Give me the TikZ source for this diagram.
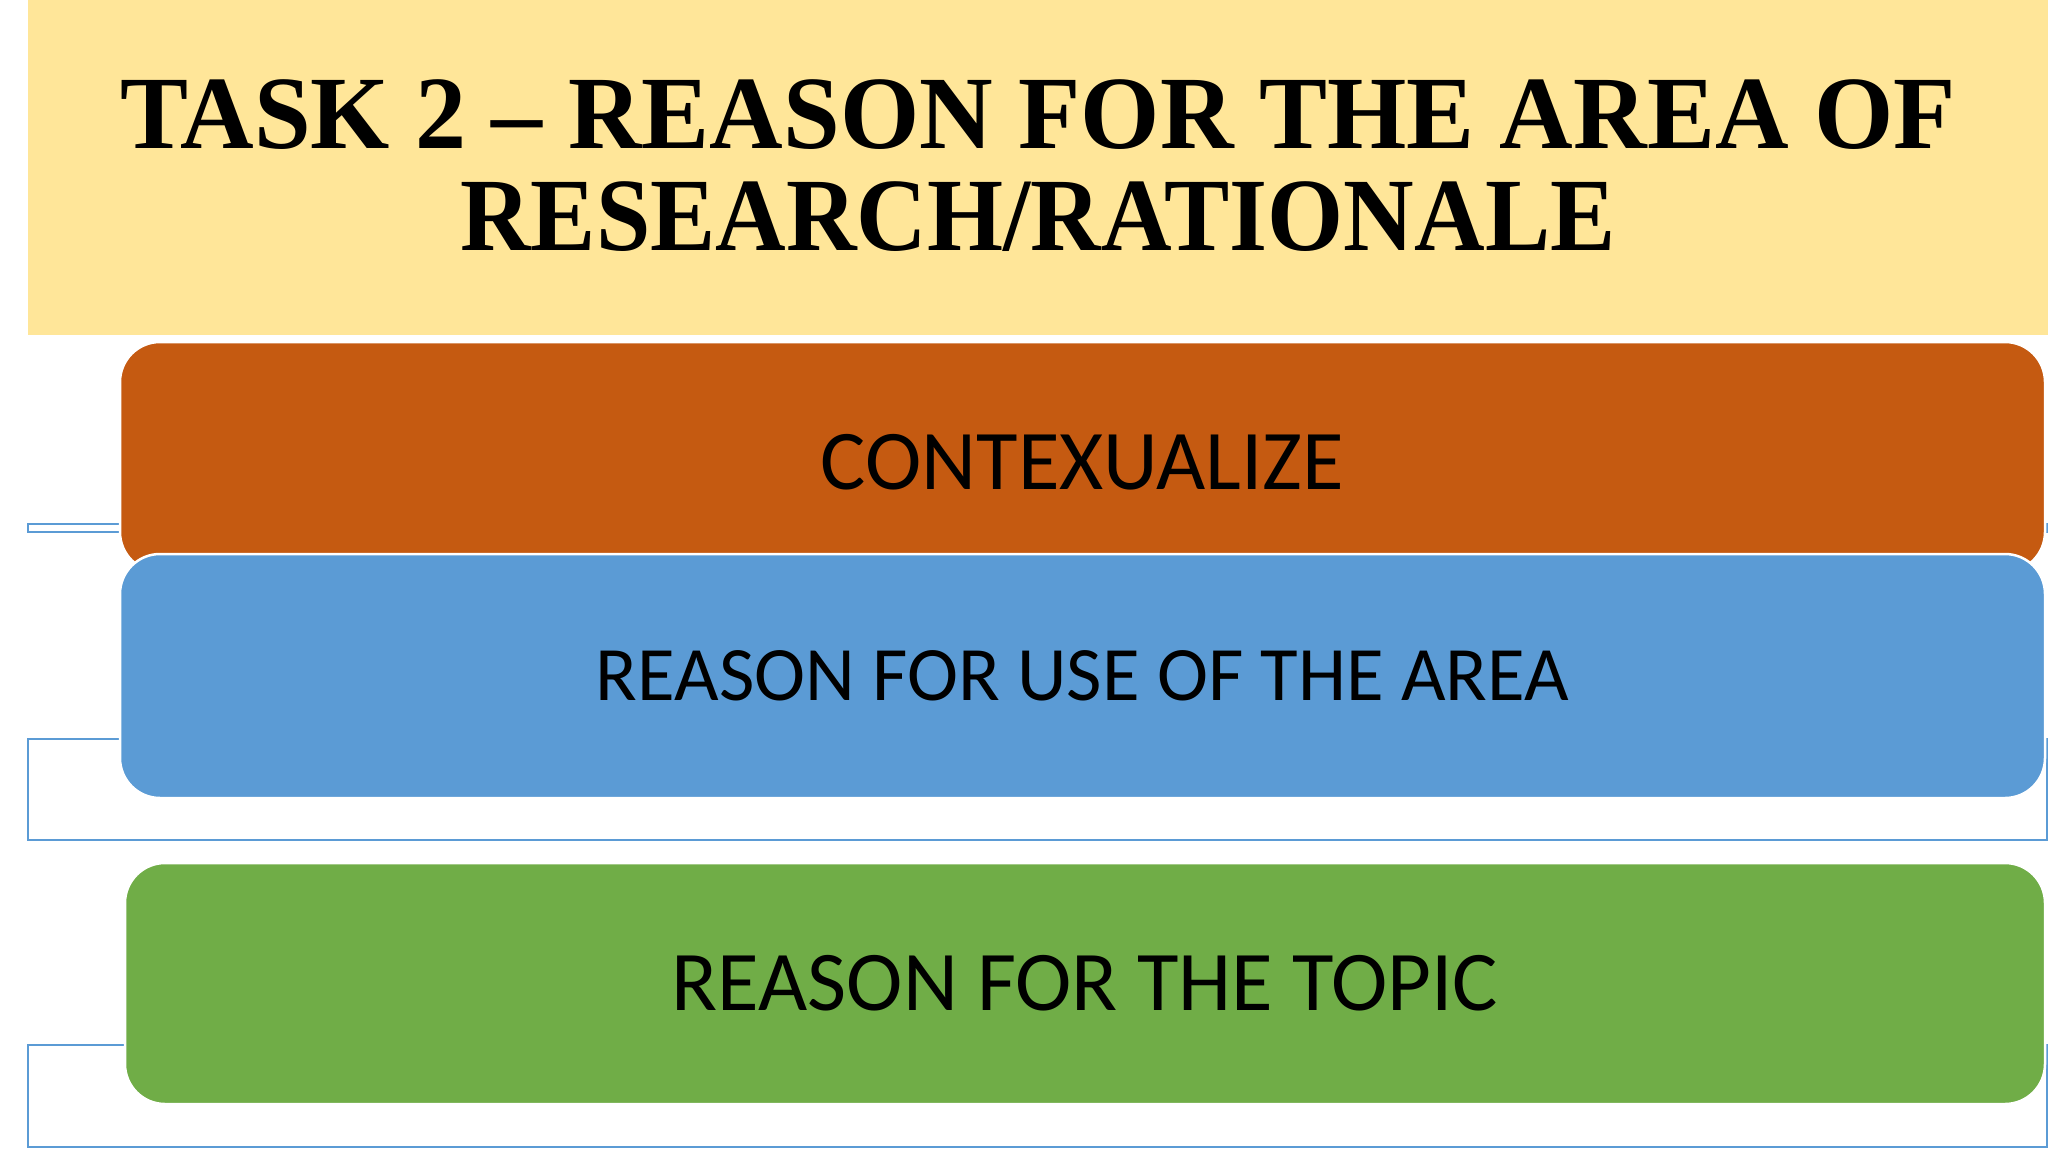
\documentclass[tikz,border=0pt]{standalone}
\usepackage{fontspec}
\setmainfont{Liberation Serif}
\newfontfamily\boxfont{Carlito}
\definecolor{bannerY}{HTML}{FFE699}
\definecolor{ctxO}{HTML}{C55A11}
\definecolor{useB}{HTML}{5B9BD5}
\definecolor{topicG}{HTML}{70AD47}
\begin{document}
\begin{tikzpicture}
    [x=1pt,y=-1pt,
     stepbox/.style={rectangle,rounded corners=40pt,draw=white,line width=2.5pt,
       minimum height=#1,inner sep=0pt,
       font=\boxfont\fontsize{85}{90}\selectfont,text=black},
     frame/.style={draw=useB,line width=1.6pt},
     heading/.style={anchor=base,inner sep=0pt,
       font=\bfseries\fontsize{104}{110}\selectfont}]
    \useasboundingbox (0,0) rectangle (2048,1152);
    \fill[bannerY] (28,0) rectangle (2048,335);
    \node[heading] (titleA) at (1038,148) {\scalebox{0.98}[1]{TASK 2 – REASON FOR THE AREA OF}};
    \node[heading] (titleB) at (1038,250) {\scalebox{0.94}[1]{RESEARCH/RATIONALE}};
    % outlines behind the boxes
    \draw[frame] (28,524) rectangle (2047,532);
    \draw[frame] (28,739) rectangle (2047,840);
    \draw[frame] (28,1045) rectangle (2047,1147);
    \node[stepbox=230pt,fill=ctxO,minimum width=1925pt,text height=65pt] (context) at (1082.5,457) {CONTEXUALIZE};
    \node[stepbox=244pt,fill=useB,minimum width=1925pt,
      font=\boxfont\fontsize{77}{82}\selectfont] (usearea) at (1082.5,676) {REASON FOR USE OF THE AREA};
    \node[stepbox=241pt,fill=topicG,minimum width=1920pt] (topic) at (1085,983.5) {REASON FOR THE TOPIC};
\end{tikzpicture}
\end{document}
